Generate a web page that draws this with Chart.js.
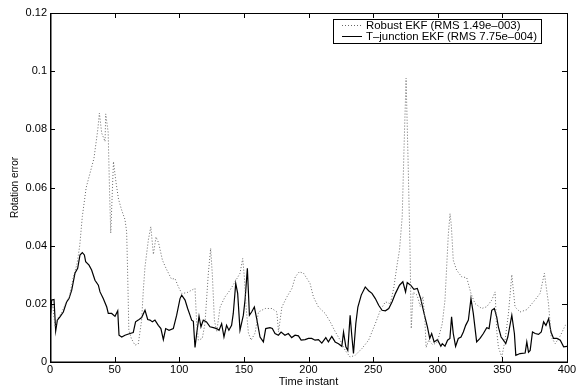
<!DOCTYPE html>
<html>
<head>
<meta charset="utf-8">
<script src="https://cdn.jsdelivr.net/npm/chart.js@4.4.1/dist/chart.umd.min.js"></script>
<style>
html,body{margin:0;padding:0;background:#fff;}
#wrap{width:578px;height:389px;position:relative;}
</style>
</head>
<body>
<div id="wrap"><canvas id="c" width="578" height="389"></canvas></div>
<script>
const xTicks = [0, 50, 100, 150, 200, 250, 300, 350, 400];
const yTicks = [0, 0.02, 0.04, 0.06, 0.08, 0.1, 0.12];
const seriesNames = ["Robust EKF (RMS 1.49e\u2013003)", "T\u2013junction EKF (RMS 7.75e\u2013004)"];

const robustX = [0,2,4,6,9,12,15,18,21,23,25,28,31,34,37,38.2,40,42.6,43.1,45,46,47,49.1,51,53,55.4,58,59.3,60.1,61,63,65.8,68.3,70.9,72.2,73.5,76.1,78,80,82,84,87,90,94,96.7,99.3,101.9,105.8,109.6,112.2,113.5,114.8,117.8,119.9,122.5,124.3,125.6,127.2,129,131.6,135.4,139.3,143.2,147,149.1,150.4,151.7,153.5,155.6,158.7,161.3,166.5,171.7,175.5,176.8,179.4,183.3,187.2,189.8,192.9,196.2,198.8,201.2,203.8,207.7,212.9,216.8,220.6,224.5,228.4,232.2,236.1,241.3,246.5,251.7,255.6,259.5,263.3,265.9,268.5,270.4,272.5,274,275.5,277,278.5,279.5,281,284,286.5,288.5,290,291,293,296,299,301,303.5,305.6,306.9,308.2,309.5,310.5,312,314.6,318.5,322.4,325.7,328.8,334,337.9,341.8,344.4,345.6,346.9,349.5,352.1,354.7,357.3,359.8,363.7,368.9,374.1,379.2,382.5,385.7,387.8,390.9,394.8,398.7,400];
const robustY = [0.0150,0.0200,0.0120,0.0150,0.0170,0.0200,0.0225,0.0290,0.0340,0.0400,0.0500,0.0600,0.0650,0.0700,0.0800,0.0856,0.0787,0.0758,0.0853,0.0790,0.0600,0.0443,0.0689,0.0620,0.0560,0.0523,0.0490,0.0448,0.0300,0.0110,0.0080,0.0058,0.0062,0.0144,0.0247,0.0327,0.0420,0.0465,0.0370,0.0430,0.0410,0.0350,0.0320,0.0285,0.0287,0.0259,0.0236,0.0238,0.0247,0.0253,0.0132,0.0075,0.0081,0.0132,0.0305,0.0391,0.0300,0.0144,0.0104,0.0189,0.0224,0.0247,0.0276,0.0305,0.0356,0.0290,0.0189,0.0100,0.0075,0.0100,0.0172,0.0184,0.0184,0.0172,0.0104,0.0189,0.0224,0.0253,0.0293,0.0310,0.0305,0.0287,0.0270,0.0224,0.0189,0.0167,0.0138,0.0105,0.0075,0.0040,0.0017,0.0023,0.0046,0.0075,0.0132,0.0178,0.0207,0.0200,0.0253,0.0333,0.0385,0.0500,0.0750,0.0976,0.0700,0.0400,0.0115,0.0240,0.0230,0.0190,0.0225,0.0150,0.0050,0.0075,0.0060,0.0065,0.0090,0.0132,0.0213,0.0327,0.0440,0.0510,0.0470,0.0350,0.0316,0.0293,0.0290,0.0236,0.0201,0.0184,0.0190,0.0213,0.0241,0.0109,0.0052,0.0017,0.0075,0.0167,0.0300,0.0189,0.0172,0.0180,0.0207,0.0236,0.0305,0.0200,0.0086,0.0063,0.0090,0.0126,0.0130];

const tjX = [0,1.3,3.1,4.4,5.7,7.7,10.3,12.9,14.7,16.8,19.3,21.4,23.2,25,26.6,27.6,30.2,32.2,34.8,37.4,38.7,41.2,43.9,45.1,47.7,50.3,52.4,53.4,55.5,58,61.9,64.4,66.2,68.3,70.9,73.5,75.6,77.4,79.2,81.2,83.8,85.8,87.7,89.5,92.1,95.4,98,100.6,101.9,104.5,106.5,108.3,109.6,110.9,112.2,113.5,115.3,116.8,118.6,121.1,123.8,126.4,129,130.8,132.8,134.6,136.6,138.4,140.5,141.8,143.7,145.2,147,149.6,150.9,152.7,154.3,156,158.1,159.9,162.5,165.1,166.9,170.2,172,174.1,176.7,178.8,181.8,184.4,187,189.6,192.2,194.3,197.4,199.9,202.5,205.1,207.7,210.3,213.4,215.4,218,220.6,223.2,225.8,227.1,228.9,230.4,232.2,233.5,234.8,236.6,238.2,240.8,243.9,246.5,249.1,251.7,254.3,256.9,259.5,262.1,264.7,267.3,270.4,273,275.1,276.4,279,281.6,284.2,286.8,289.4,292,293.8,295.3,297.2,299.8,302.4,303.5,305.6,307.6,309.4,310.7,312,313.8,315.9,318,319.8,321.6,323.7,325.7,327.5,330.1,332.7,335.3,337.9,339.7,341.8,343.8,345.6,346.9,349,350.8,352.6,354.2,357.3,359.3,360.4,363.7,367.6,368.9,370.2,371.5,373.3,375.4,378,380.1,381.9,383.7,385.8,387.6,389.6,392.2,394.8,397.4,400];
const tjY = [0.0144,0.0213,0.0215,0.0107,0.0144,0.0155,0.0172,0.0207,0.0218,0.0247,0.0305,0.0322,0.0368,0.0376,0.0368,0.0345,0.0333,0.0316,0.0281,0.0264,0.0241,0.0218,0.0189,0.0167,0.0167,0.0157,0.0176,0.0092,0.0086,0.0092,0.0098,0.0101,0.0138,0.0144,0.0153,0.0178,0.0146,0.0144,0.0138,0.0144,0.0126,0.0115,0.0077,0.0115,0.0109,0.0115,0.0161,0.0218,0.0230,0.0213,0.0184,0.0161,0.0144,0.0140,0.0050,0.0098,0.0157,0.0121,0.0144,0.0138,0.0121,0.0118,0.0115,0.0109,0.0132,0.0086,0.0126,0.0109,0.0126,0.0167,0.0270,0.0236,0.0109,0.0161,0.0213,0.0322,0.0161,0.0172,0.0189,0.0149,0.0086,0.0069,0.0115,0.0118,0.0115,0.0098,0.0092,0.0103,0.0092,0.0098,0.0084,0.0092,0.0090,0.0075,0.0077,0.0081,0.0081,0.0075,0.0077,0.0065,0.0084,0.0069,0.0088,0.0069,0.0063,0.0054,0.0103,0.0052,0.0040,0.0161,0.0090,0.0029,0.0132,0.0189,0.0230,0.0258,0.0245,0.0236,0.0218,0.0195,0.0178,0.0176,0.0184,0.0207,0.0236,0.0264,0.0276,0.0241,0.0273,0.0264,0.0250,0.0253,0.0218,0.0167,0.0121,0.0081,0.0098,0.0069,0.0077,0.0054,0.0063,0.0054,0.0075,0.0081,0.0155,0.0098,0.0054,0.0081,0.0086,0.0103,0.0126,0.0144,0.0218,0.0167,0.0069,0.0081,0.0098,0.0118,0.0115,0.0178,0.0184,0.0155,0.0121,0.0086,0.0075,0.0063,0.0086,0.0161,0.0098,0.0023,0.0029,0.0031,0.0069,0.0034,0.0040,0.0103,0.0098,0.0095,0.0103,0.0138,0.0126,0.0149,0.0103,0.0081,0.0081,0.0075,0.0052,0.0054];

const FONT = "'Liberation Sans', Arial, Helvetica, sans-serif";
const pts = (xs, ys) => xs.map((x, i) => ({x: x, y: ys[i]}));

const frame = {
  id: 'frame',
  afterDatasetsDraw(chart) {
    const {ctx, chartArea: a, scales} = chart;
    ctx.save();
    ctx.strokeStyle = '#000';
    ctx.lineWidth = 1;
    ctx.strokeRect(Math.round(a.left) + 0.5, Math.round(a.top) + 0.5, Math.round(a.right - a.left), Math.round(a.bottom - a.top));
    // slightly heavier left and bottom axis lines
    ctx.beginPath();
    ctx.moveTo(Math.round(a.left) + 1.5, Math.round(a.top));
    ctx.lineTo(Math.round(a.left) + 1.5, Math.round(a.bottom));
    ctx.moveTo(Math.round(a.left), Math.round(a.bottom) - 0.5);
    ctx.lineTo(Math.round(a.right), Math.round(a.bottom) - 0.5);
    ctx.globalAlpha = 0.5;
    ctx.stroke();
    ctx.globalAlpha = 1;
    const L = 5;
    ctx.beginPath();
    xTicks.forEach(v => {
      const px = Math.round(scales.x.getPixelForValue(v)) + 0.5;
      ctx.moveTo(px, a.bottom); ctx.lineTo(px, a.bottom - L);
      ctx.moveTo(px, a.top); ctx.lineTo(px, a.top + L);
    });
    yTicks.forEach(v => {
      const py = Math.round(scales.y.getPixelForValue(v)) + 0.5;
      ctx.moveTo(a.left, py); ctx.lineTo(a.left + L, py);
      ctx.moveTo(a.right, py); ctx.lineTo(a.right - L, py);
    });
    ctx.stroke();
    // legend
    const bx = 333.5, by = 19.5, bw = 208, bh = 24;
    ctx.fillStyle = '#fff';
    ctx.fillRect(bx, by, bw, bh);
    ctx.strokeRect(bx, by, bw, bh);
    const rows = [25.5, 36.5];
    chart.data.datasets.forEach((ds, i) => {
      ctx.beginPath();
      ctx.setLineDash(ds.borderDash || []);
      ctx.strokeStyle = ds.borderColor;
      ctx.lineWidth = 1;
      ctx.moveTo(342, rows[i]); ctx.lineTo(362, rows[i]);
      ctx.stroke();
      ctx.setLineDash([]);
      ctx.fillStyle = '#000';
      ctx.font = '11.4px ' + FONT;
      ctx.textBaseline = 'middle';
      ctx.textAlign = 'left';
      ctx.fillText(ds.label, 366, rows[i]);
    });
    ctx.restore();
  }
};

new Chart(document.getElementById('c'), {
  type: 'line',
  data: {
    datasets: [
      {label: seriesNames[0], data: pts(robustX, robustY), borderColor: '#666', borderWidth: 1, borderDash: [1, 2], pointRadius: 0, tension: 0, fill: false},
      {label: seriesNames[1], data: pts(tjX, tjY), borderColor: '#000', borderWidth: 1.2, pointRadius: 0, tension: 0, fill: false}
    ]
  },
  options: {
    responsive: false,
    animation: false,
    events: [],
    layout: {padding: {left: 0, right: 11, top: 13, bottom: 0}},
    plugins: {legend: {display: false}, tooltip: {enabled: false}},
    scales: {
      x: {
        type: 'linear', min: 0, max: 400,
        afterBuildTicks: s => { s.ticks = xTicks.map(v => ({value: v})); },
        afterFit: s => { s.height = 27; },
        grid: {display: false, drawTicks: false},
        border: {display: false},
        ticks: {color: '#000', font: {family: FONT, size: 11}, padding: 1, maxRotation: 0, autoSkip: false, callback: v => String(v)},
        title: {display: true, text: 'Time instant', color: '#000', font: {family: FONT, size: 11}, padding: {top: -2, bottom: 0}}
      },
      y: {
        type: 'linear', min: 0, max: 0.12,
        afterBuildTicks: s => { s.ticks = yTicks.map(v => ({value: v})); },
        afterFit: s => { s.width = 50; },
        grid: {display: false, drawTicks: false},
        border: {display: false},
        ticks: {color: '#000', font: {family: FONT, size: 11}, padding: 3, autoSkip: false, callback: v => String(+(+v).toFixed(2))},
        title: {display: true, text: 'Rotation error', color: '#000', font: {family: FONT, size: 10}, padding: {top: 9, bottom: 0}}
      }
    }
  },
  plugins: [frame]
});
</script>
</body>
</html>
